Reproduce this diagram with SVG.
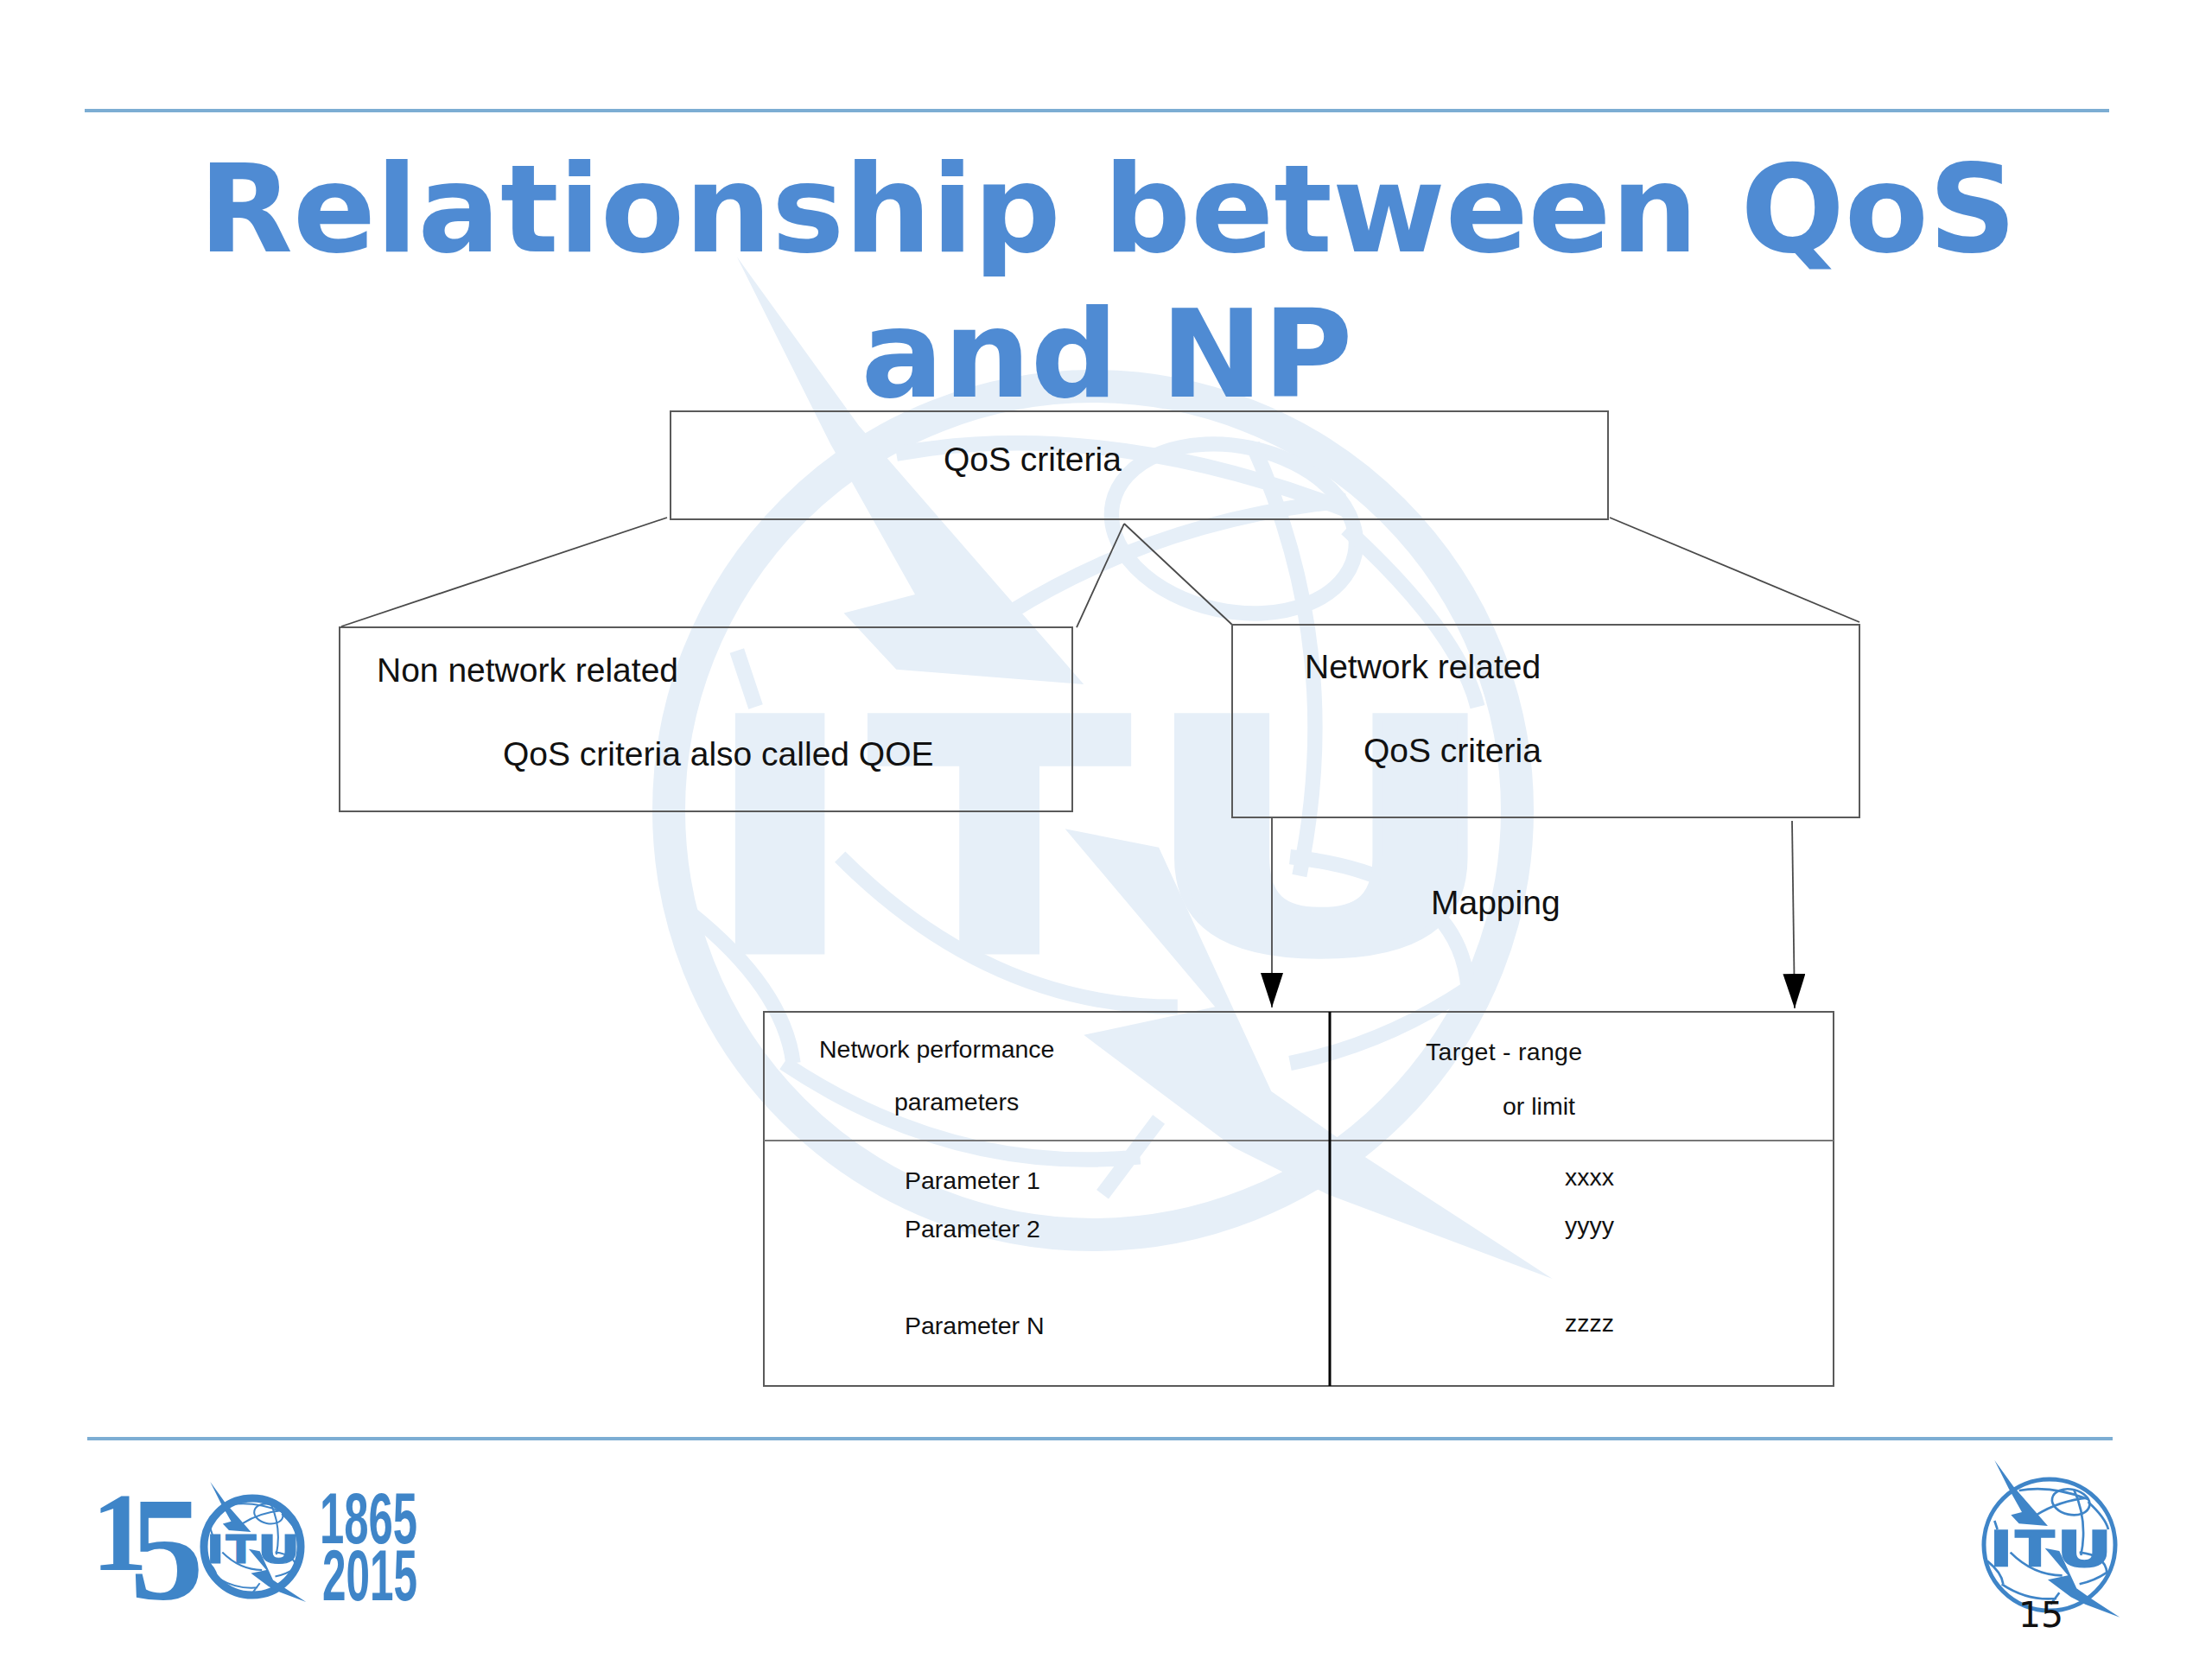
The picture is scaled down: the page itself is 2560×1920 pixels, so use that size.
<svg xmlns="http://www.w3.org/2000/svg" xmlns:xlink="http://www.w3.org/1999/xlink" width="2560" height="1920" viewBox="0 0 2560 1920">
<style>
.box{fill:none;stroke:#5a5a5a;stroke-width:2}
.conn{fill:none;stroke:#4a4a4a;stroke-width:1.8}
.t{font-family:"Liberation Sans",Arial,sans-serif;fill:#111}
.l{font-size:39px}
.s{font-size:28.5px}
.title{font-family:"DejaVu Sans",sans-serif;font-weight:bold;font-size:141.5px;fill:#4f8bd3;text-anchor:middle}
.rule{stroke:#7cadd3;stroke-width:4}
.itu{font-family:"DejaVu Sans",sans-serif;font-weight:bold;font-size:171px;stroke:currentColor;stroke-width:4}
.yr{font-family:"Liberation Sans",sans-serif;font-weight:bold;font-size:83px;fill:#3f85c8}
</style>
<defs>
<marker id="arrow" markerUnits="userSpaceOnUse" markerWidth="40" markerHeight="26" refX="40" refY="13" orient="auto" viewBox="0 0 40 26"><path d="M0 0L40 13L0 26Z" fill="#000"/></marker>
<g id="emblem">
<g fill="none" stroke="currentColor" stroke-width="8">
<ellipse cx="470" cy="235" rx="66" ry="44" transform="rotate(12 470 235)"/>
<path d="M290 195Q400 175 530 225M480 190Q530 300 505 420M350 280Q430 230 530 220M530 235Q590 290 600 330M205 300L215 330M260 410Q340 490 440 490M180 440Q230 480 235 520M230 520Q320 580 420 570M500 410Q590 420 595 480Q550 510 500 520M430 550L400 590"/>
</g>
<path fill="currentColor" d="M205 90L270 180L390 318L290 310L262 280L300 270L255 190Z"/>
<path fill="currentColor" d="M380 395L430 405L490 535L540 570L640 635L520 590L470 565L390 505L460 490Z"/>
<text class="itu" y="460" fill="currentColor"><tspan x="186" textLength="84" lengthAdjust="spacingAndGlyphs">I</tspan><tspan x="276" textLength="138" lengthAdjust="spacingAndGlyphs">T</tspan><tspan x="419" textLength="195" lengthAdjust="spacingAndGlyphs">U</tspan></text>
</g>
</defs>
<rect width="2560" height="1920" fill="#fff"/>
<g id="watermark" color="#e6eff8">
<circle cx="1265" cy="938" r="491" fill="none" stroke="#e6eff8" stroke-width="38"/>
<use xlink:href="#emblem" href="#emblem" transform="translate(408 102) scale(2.17)"/>
</g>
<line class="rule" x1="98" y1="128" x2="2441" y2="128"/>
<line class="rule" x1="101" y1="1665" x2="2445" y2="1665"/>
<text class="title" x="1282" y="291">Relationship between QoS</text>
<text class="title" x="1281" y="459">and NP</text>
<g id="connectors">
<path class="conn" d="M772 599L395 725"/>
<path class="conn" d="M1301 606L1246 726"/>
<path class="conn" d="M1301 606L1426 723"/>
<path class="conn" d="M1863 599L2152 720"/>
<path class="conn" d="M1472 946L1472 1166" marker-end="url(#arrow)"/>
<path class="conn" d="M2074 950L2077 1167" marker-end="url(#arrow)"/>
</g>
<g id="node-qos">
<rect class="box" x="776" y="476" width="1085" height="125"/>
<text class="t l" x="1092" y="545">QoS criteria</text>
</g>
<g id="node-non-network">
<rect class="box" x="393" y="726" width="848" height="213"/>
<text class="t l" x="436" y="789">Non network related</text>
<text class="t l" x="582" y="886">QoS criteria also called QOE</text>
</g>
<g id="node-network">
<rect class="box" x="1426" y="723" width="726" height="223"/>
<text class="t l" x="1510" y="785">Network related</text>
<text class="t l" x="1578" y="882">QoS criteria</text>
</g>
<g id="label-mapping">
<text class="t l" x="1656" y="1058">Mapping</text>
</g>
<g id="node-table">
<rect class="box" x="884" y="1171" width="1238" height="433"/>
<line x1="884" y1="1320" x2="2122" y2="1320" stroke="#777" stroke-width="2"/>
<line x1="1539" y1="1171" x2="1539" y2="1604" stroke="#000" stroke-width="3"/>
<text class="t s" x="948" y="1224">Network performance</text>
<text class="t s" x="1035" y="1285">parameters</text>
<text class="t s" x="1650" y="1227" textLength="181">Target - range</text>
<text class="t s" x="1739" y="1290">or limit</text>
<text class="t s" x="1047" y="1376">Parameter 1</text>
<text class="t s" x="1047" y="1432">Parameter 2</text>
<text class="t s" x="1047" y="1544">Parameter N</text>
<text class="t s" x="1811" y="1372">xxxx</text>
<text class="t s" x="1811" y="1428">yyyy</text>
<text class="t s" x="1811" y="1541">zzzz</text>
</g>
<g id="logo-150" color="#3f85c8">
<text font-family="Liberation Serif,serif" font-weight="bold" fill="#3f85c8"><tspan x="106" y="1817" font-size="130">1</tspan><tspan x="150" y="1850" font-size="172">5</tspan></text>
<circle cx="292" cy="1790" r="56" fill="#fff" stroke="#3f85c8" stroke-width="9"/>
<use xlink:href="#emblem" href="#emblem" transform="translate(191 1692) scale(0.255)"/>
<text class="yr" x="370" y="1786" textLength="113" lengthAdjust="spacingAndGlyphs">1865</text>
<text class="yr" x="373" y="1852" textLength="110" lengthAdjust="spacingAndGlyphs">2015</text>
</g>
<g id="logo-itu" color="#3f85c8">
<circle cx="2372" cy="1788" r="76" fill="#fff" stroke="#3f85c8" stroke-width="5"/>
<use xlink:href="#emblem" href="#emblem" transform="translate(2240 1660) scale(0.3333)"/>
</g>
<text x="2336" y="1883" font-family="DejaVu Sans,sans-serif" font-size="41" fill="#111">15</text>
</svg>
